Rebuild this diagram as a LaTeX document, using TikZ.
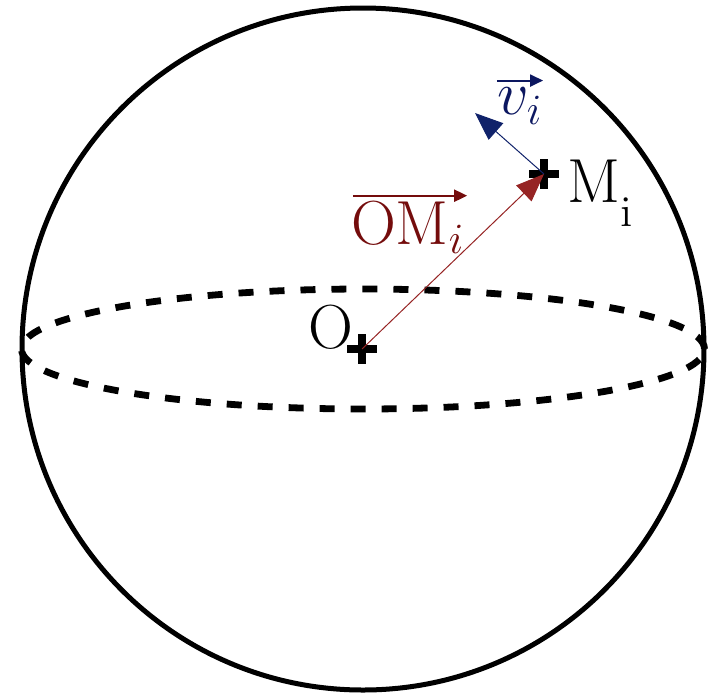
\documentclass[tikz,border=0pt]{standalone}
\usepackage{amsmath,amssymb}
\usepackage{graphicx}
\usepackage{xcolor}
\usepackage{tikz}
\usetikzlibrary{arrows.meta,positioning}

\definecolor{vecred}{HTML}{962424}
\definecolor{labred}{HTML}{740C0C}
\definecolor{vecblue}{HTML}{10226A}
\definecolor{labblue}{HTML}{0C1760}
\newcommand{\biglab}[1]{\scalebox{1.5}{\huge #1}}

\begin{document}
\begin{tikzpicture}[x=0.5pt, y=-0.5pt,
  sphere/.style={line width=2.5pt},
  equator/.style={line width=3.4pt, dash pattern=on 7.5pt off 8pt},
  crossmark/.style={line width=4pt},
  vec/.style={line width=0.5pt, -{Triangle[length=14pt, width=11pt]}},
  ovec/.style={line width=1pt, -{Triangle[length=6.5pt, width=6pt]}},
  lab/.style={inner sep=1pt}]
\useasboundingbox (0,0) rectangle (708,693);
\coordinate (C) at (363,349);
\coordinate (O) at (362,349);
\coordinate (M) at (544,174);
\coordinate (vtip) at (475,113);
% sphere and equator
\draw[sphere] (C) circle[radius=170.5pt];
\draw[equator] (C) ellipse[x radius=170.75pt, y radius=30pt];
% the two points
\foreach \p in {O,M}
  \draw[crossmark] (\p) ++(-15,0) -- ++(30,0) (\p) ++(0,-15) -- ++(0,30);
\draw[vec, vecred] (O) -- (M);
\draw[vec, vecblue] (M) -- (vtip);
% labels
\node[lab, above left=-1pt and 3pt of O] (Olab) {\biglab{$\mathrm{O}$}};
\node[lab, anchor=base west] (Mlab) at (565,202) {\biglab{$\mathrm{M}\lower8pt\hbox{$\scriptstyle\mathrm{i}$}$}};
\node[lab, labred] (OMlab) at (408,228) {\biglab{$\mathrm{OM}_{i}$}};
\node[lab, labblue] (vlab) at (520,106) {\biglab{$v_{i}$}};
% arrows over the vector names
\draw[ovec, labred] ([xshift=2pt, yshift=2pt]OMlab.north west) -- ([xshift=0pt, yshift=2pt]OMlab.north east);
\draw[ovec, labblue] ([xshift=1pt, yshift=2.5pt]vlab.north west) -- ([xshift=-1pt, yshift=2.5pt]vlab.north east);
\end{tikzpicture}
\end{document}
